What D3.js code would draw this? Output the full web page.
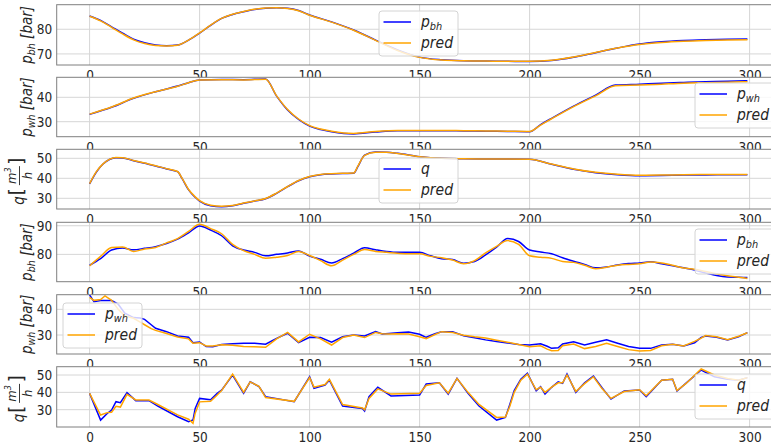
<!DOCTYPE html>
<html>
<head>
<meta charset="utf-8">
<script src="https://cdn.jsdelivr.net/npm/d3@7"></script>
<style>
  body { margin: 0; background: #fff; }
  svg { display: block; }
  text { font-family: "DejaVu Sans Condensed", "DejaVu Sans", sans-serif; fill: #262626; }
</style>
</head>
<body>
<script>
// x ticks shared by all panels
const xTicks = [0, 50, 100, 150, 200, 250, 300];

// panel 1: bottom hole pressure (smooth)
const x1 = [0,5,10,15,20,25,30,35,40,45,50,55,60,65,70,75,80,85,90,95,100,110,120,130,140,150,160,170,180,190,200,210,220,230,240,250,260,270,280,290,299];
const pbh1 = [85.4,83.6,81,78.4,76,74.5,73.6,73.3,73.6,75.6,78.4,81.6,84.4,86,87.1,88,88.5,88.7,88.5,87.6,85.8,83.0,79.7,75.6,71.6,68.7,67.6,67.2,67.1,67,66.9,67.3,68.6,70.5,72.4,74.0,74.9,75.4,75.7,75.9,76.0];
const pbh1Pred = [85.3,83.4,80.8,78.1,75.7,74.2,73.4,73.2,73.5,75.6,78.5,81.7,84.4,86.1,87.2,88.1,88.6,88.7,88.4,87.5,85.7,82.9,79.6,75.5,71.4,68.6,67.5,67.2,67.1,67.0,67.0,67.4,68.7,70.6,72.4,73.8,74.6,75.1,75.4,75.6,75.7];

// panel 2: wellhead pressure (smooth)
const x2 = [0,10,20,30,40,45,50,60,70,80,85,90,95,100,105,110,120,130,140,150,160,170,180,190,200,205,210,220,230,239,250,260,270,280,290,299];
const pwh2 = [33.0,35.9,39.6,42.3,44.6,46,47.1,47.3,47.2,47.5,40.5,34.8,30.9,28.2,26.8,25.9,25.0,25.8,26.3,26.3,26.3,26.2,26.1,26,25.9,28.8,31.4,36.4,40.9,45.0,45.4,45.8,46.1,46.4,46.6,46.8];
const pwh2Pred = [33.1,36.0,39.7,42.3,44.5,46,47.1,47.2,47.1,47.4,40.6,35.0,31.1,28.4,27.0,26.1,25.2,26.0,26.4,26.4,26.4,26.3,26.2,26.1,26.0,28.6,31.2,36.2,40.6,44.7,45.0,45.4,45.8,46.0,46.2,46.4];

// panel 3: flow rate (smooth)
const x3 = [0,3,6,9,12,15,20,25,30,35,40,42,45,48,50,55,60,65,70,75,80,85,90,95,100,105,110,115,120,122,125,130,135,140,150,160,170,180,190,200,210,220,230,240,250,260,270,280,290,299];
const q3 = [37.2,43,47,49.4,50.3,50.2,48.8,47.5,46.2,44.7,43.3,40,34.2,30.5,28.6,26.3,25.8,26.3,27.5,28.6,29.8,32.5,35.8,38.8,40.8,41.8,42.2,42.4,42.5,46,51.6,53.1,53,52.5,50.8,50.0,49.8,49.7,49.7,49.5,47,44.5,42.8,41.8,41.3,41.4,41.6,41.7,41.8,41.8];
const q3Pred = [37.3,43.2,47.1,49.5,50.4,50.3,48.9,47.6,46.3,44.8,43.4,40.1,34.4,30.7,28.8,26.5,26.0,26.4,27.6,28.7,29.9,32.6,35.9,38.9,40.9,41.9,42.3,42.5,42.6,46.2,51.5,53.0,53.0,52.4,50.8,50.0,49.8,49.7,49.7,49.5,47.1,44.7,43.0,42.0,41.5,41.6,41.8,41.9,41.9,41.9];

// panel 4: bottom hole pressure (noisy)
const x4 = [0,5,10,15,20,25,30,35,40,45,50,55,60,65,70,75,80,85,90,95,100,105,110,115,120,125,130,135,140,145,150,155,160,165,170,175,180,185,190,195,200,205,210,215,220,225,230,235,240,245,250,255,260,265,270,275,280,285,290,295,299];
const pbh4 = [76.2,78.5,81.5,82.2,81.6,82.1,82.7,83.8,85.3,87.5,89.9,88.5,86.5,83,81.5,80.7,79.5,80.0,80.5,81.2,79.4,78.3,77.0,78.5,80.4,82.3,81.6,81.0,80.7,80.7,80.7,79.5,78.5,78.2,76.9,77.5,79.8,82.5,85.5,84.5,81.5,80.8,80.2,78.8,77.6,76.5,75.3,75.6,76.3,76.8,77.0,77.4,76.7,76.0,75.3,74.5,73.5,72.6,72.1,72.0,71.9];
const pbh4Pred = [76.0,79.3,82.4,82.6,81.0,81.9,82.4,84.0,85.5,88.0,90.5,89.0,87.2,83.5,81.3,80.0,78.6,79.0,79.6,81.0,79.6,77.8,76.0,78.0,80.0,81.7,81.0,80.7,80.4,80.2,80.2,79.3,78.8,78.0,76.7,77.8,80.5,82.8,84.8,83.5,79.5,79.0,78.6,77.5,77.2,76.2,75.0,75.5,76.2,76.5,76.7,77.3,77.0,76.2,75.2,74.8,74.0,73.2,72.5,72.0,71.6];

// panel 5: wellhead pressure (noisy)
const x5 = [0,2,5,7,10,13,16,20,23,25,28,30,35,40,45,47,50,53,56,60,65,70,75,80,85,90,95,100,105,110,115,120,125,130,133,136,140,145,150,153,157,160,165,170,175,180,185,190,195,200,205,208,210,213,215,220,225,230,235,240,245,250,255,260,265,270,275,278,280,285,290,295,299];
const pwh5 = [45.6,43,43.4,43.4,43.4,42,38.5,36.8,36.6,36.1,34,32.6,31.3,29.6,29.1,27.0,27.3,25.5,25.4,26.3,26.6,26.8,26.8,26.4,28.7,30.7,27.0,29.1,29.0,27.2,29.3,30.0,29.6,31.3,30.4,30.6,30.9,31.2,30.3,29.1,30.5,31.3,31.3,29.7,28.9,28.1,27.5,26.9,26.3,26.1,26.6,25.6,24.8,25.0,26.5,27.4,26.1,27.2,28.1,26.8,25.5,24.8,24.8,26.1,26.4,25.7,27.0,29.1,29.6,29.1,28.1,29.3,30.9];
const pwh5Pred = [44.7,43.5,43.8,45.2,43.5,40,37.5,36.5,35.0,34.0,32.5,31.8,30.6,29.2,28.5,26.8,27.0,25.7,25.7,26.2,26.0,25.5,25.4,25.2,28.5,31.0,27.3,30.3,28.5,26.1,29.0,30.0,29.0,31.0,30.5,30.4,30.5,30.4,29.3,28.6,30.2,31.3,31.0,29.9,29.3,28.8,28.0,27.2,26.3,25.4,25.8,24.5,23.9,24.0,25.8,26.5,24.7,25.5,26.8,25.5,24.3,23.8,24.0,25.8,26.4,25.7,27.5,28.8,29.8,29.3,28.2,29.5,30.9];

// panel 6: flow rate (noisy)
const x6 = [0,5,8,10,12,14,17,21,27,31,40,45,47,48,50,55,58,60,65,70,73,77,80,93,100,102,107,109,115,124,125,127,131,137,150,153,159,163,167,172,177,185,189,191,193,196,199,203,205,207,210,213,215,217,221,225,229,233,237,243,250,253,260,265,267,271,278,284,290,295,299];
const q6 = [39.4,24.0,27.8,29.8,34.6,34.0,39.8,35.2,35.2,32.1,25.9,23.0,24.0,30.7,36.5,35.7,39.4,41.3,50.0,39.4,46.1,43.3,37.5,34.6,49.0,42.3,44.2,47.1,32.1,30.7,29.2,37.5,42.9,37.9,38.4,44.8,45.5,39.0,48.1,39.4,32.1,24.0,25.5,33.0,41.0,47.5,51.0,40.9,43.3,39.0,42.9,46.1,45.2,50.6,40.0,45.5,49.4,42.5,36.1,40.8,41.3,37.5,47.0,47.5,40.8,45.2,52.9,49.0,47.5,47.0,48.5];
const q6Pred = [39.4,26.9,28.3,28.5,32.0,31.5,38.8,35.6,35.6,33.0,27.0,24.5,22.1,28.0,34.5,34.8,38.5,41.0,50.5,40.0,46.0,43.5,37.0,34.8,48.5,43.0,44.5,47.5,33.0,31.0,30.0,36.5,42.0,39.0,39.5,44.0,45.5,39.5,48.0,40.0,33.0,25.5,25.8,32.0,40.0,47.0,50.5,41.5,43.0,40.0,43.0,45.5,45.5,50.0,40.5,45.0,49.0,42.0,36.5,40.5,41.5,38.0,47.0,47.5,41.0,45.0,53.5,50.0,48.0,47.0,48.5];

const width = 771;
const height = 444;
const left = 56.7;
const right = 780.3;

const svg = d3.select("body").append("svg").attr("width", width).attr("height", height);

const xScale = d3.scaleLinear().domain([-14.95, 313.95]).range([left, right]);

const smooth = d3.curveMonotoneX;
const sharp = d3.curveLinear;

const panels = [
  { top: 4.7, bottom: 65, dom: [65.5, 89.96], ticks: [70, 80], kind: "bh", xs: x1, real: pbh1, pred: pbh1Pred, curve: smooth, leg: [379, 11] },
  { top: 77.3, bottom: 136.7, dom: [23.85, 48.2], ticks: [30, 40], kind: "wh", xs: x2, real: pwh2, pred: pwh2Pred, curve: smooth, leg: [695, 83] },
  { top: 149.3, bottom: 209, dom: [24.65, 54.5], ticks: [30, 40, 50], kind: "q", xs: x3, real: q3, pred: q3Pred, curve: smooth, leg: [379, 158] },
  { top: 222.3, bottom: 281.7, dom: [70.45, 91.2], ticks: [80, 90], kind: "bh", xs: x4, real: pbh4, pred: pbh4Pred, curve: smooth, leg: [695, 229] },
  { top: 294.7, bottom: 354, dom: [22.6, 45.7], ticks: [30, 40], kind: "wh", xs: x5, real: pwh5, pred: pwh5Pred, curve: sharp, leg: [63, 303] },
  { top: 366.7, bottom: 427, dom: [20.0, 54.8], ticks: [30, 40, 50], kind: "q", xs: x6, real: q6, pred: q6Pred, curve: sharp, leg: [695, 374] }
];

//writes p_bh / p_wh / q, returns the baseline shift still pending
const mathName = (sel, kind, size) => {
  if (kind === "q") {
    sel.append("tspan").text("q");
    return 0;
  }
  sel.append("tspan").text("p");
  sel.append("tspan").attr("font-size", size * 0.7).attr("dy", size * 0.22).text(kind);
  return size * 0.22;
};

panels.forEach((p, i) => {
  const g = svg.append("g");
  const yScale = d3.scaleLinear().domain(p.dom).range([p.bottom, p.top]);

  //background covers the tick labels of the panel above
  g.append("rect")
    .attr("x", left).attr("y", p.top)
    .attr("width", right - left).attr("height", p.bottom - p.top)
    .attr("fill", "#fff");

  const clipId = "clip" + i;
  g.append("clipPath").attr("id", clipId)
    .append("rect")
    .attr("x", left).attr("y", p.top)
    .attr("width", right - left).attr("height", p.bottom - p.top);

  //Grid
  g.append("g")
    .selectAll("line")
    .data(xTicks)
    .enter().append("line")
    .attr("x1", (d) => xScale(d)).attr("x2", (d) => xScale(d))
    .attr("y1", p.top).attr("y2", p.bottom)
    .attr("stroke", "#d6d6d6").attr("stroke-width", 1);
  g.append("g")
    .selectAll("line")
    .data(p.ticks)
    .enter().append("line")
    .attr("x1", left).attr("x2", right)
    .attr("y1", (d) => yScale(d)).attr("y2", (d) => yScale(d))
    .attr("stroke", "#d6d6d6").attr("stroke-width", 1);

  //Lines
  const line = d3.line()
    .x((d, j) => xScale(p.xs[j]))
    .y((d) => yScale(d))
    .curve(p.curve);

  const lines = g.append("g").attr("clip-path", `url(#${clipId})`);
  lines.append("path").attr("d", line(p.real))
    .attr("fill", "none").attr("stroke", "blue").attr("stroke-width", 1.5);
  lines.append("path").attr("d", line(p.pred))
    .attr("fill", "none").attr("stroke", "orange").attr("stroke-width", 1.5);

  //Spines
  g.append("rect")
    .attr("x", left).attr("y", p.top)
    .attr("width", right - left).attr("height", p.bottom - p.top)
    .attr("fill", "none").attr("stroke", "#7f7f7f").attr("stroke-width", 1);

  //Axes (labels only)
  const xAxis = d3.axisBottom(xScale).tickValues(xTicks).tickSize(0).tickPadding(5.3);
  const yAxis = d3.axisLeft(yScale).tickValues(p.ticks).tickSize(0).tickPadding(4.5);

  const gx = g.append("g").attr("transform", `translate(0,${p.bottom})`).call(xAxis);
  const gy = g.append("g").attr("transform", `translate(${left},0)`).call(yAxis);
  [gx, gy].forEach((a) => {
    a.select(".domain").remove();
    a.selectAll("text").attr("font-size", 13.5).attr("fill", "#262626")
      .style("font-family", '"DejaVu Sans Condensed", "DejaVu Sans", sans-serif');
  });

  //Y label
  const cy = (p.top + p.bottom) / 2;
  if (p.kind === "q") {
    const lab = g.append("g").attr("transform", `translate(24,${cy + 2}) rotate(-90)`)
      .attr("font-style", "italic");
    lab.append("text").attr("x", -23.5).attr("y", 0).attr("font-size", 15).text("q");
    lab.append("text").attr("x", -14).attr("y", -1).attr("font-size", 20).attr("font-style", "normal").text("[");
    const num = lab.append("text").attr("x", 5.5).attr("y", -8).attr("text-anchor", "middle").attr("font-size", 13);
    num.append("tspan").text("m");
    num.append("tspan").attr("font-size", 9).attr("dy", -5).text("3");
    lab.append("line").attr("x1", -4).attr("x2", 15).attr("y1", -4.5).attr("y2", -4.5)
      .attr("stroke", "#262626").attr("stroke-width", 0.9);
    lab.append("text").attr("x", 5.5).attr("y", 7.5).attr("text-anchor", "middle").attr("font-size", 13).text("h");
    lab.append("text").attr("x", 16.5).attr("y", -1).attr("font-size", 20).attr("font-style", "normal").text("]");
  } else {
    const lab = g.append("text")
      .attr("transform", `translate(32,${cy}) rotate(-90)`)
      .attr("text-anchor", "middle")
      .attr("font-size", 15)
      .attr("font-style", "italic");
    const shift = mathName(lab, p.kind, 15);
    lab.append("tspan").attr("dy", -shift).text(" [bar]");
  }

  //Legend
  const [lx, ly] = p.leg;
  const leg = g.append("g").attr("transform", `translate(${lx},${ly})`);
  leg.append("rect")
    .attr("width", 79).attr("height", 45).attr("rx", 3)
    .attr("fill", "#fff").attr("fill-opacity", 0.8)
    .attr("stroke", "#d4d4d4").attr("stroke-width", 1);
  ["real", "pred"].forEach((n, j) => {
    const yy = 11 + j * 21;
    leg.append("line")
      .attr("x1", 4.5).attr("x2", 32).attr("y1", yy).attr("y2", yy)
      .attr("stroke", j === 0 ? "blue" : "orange").attr("stroke-width", 1.5);
    const t = leg.append("text").attr("x", 42).attr("y", yy + 5)
      .attr("font-size", 15.5).attr("font-style", "italic");
    if (j === 0) mathName(t, p.kind, 15.5);
    else t.text("pred");
  });
});
</script>
</body>
</html>
